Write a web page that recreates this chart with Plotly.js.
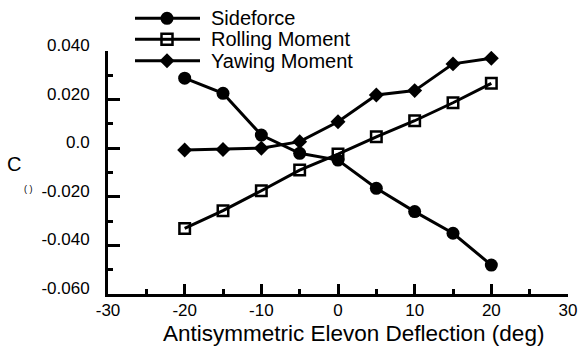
<!DOCTYPE html>
<html>
<head>
<meta charset="utf-8">
<script src="https://cdn.plot.ly/plotly-3.0.1.min.js"></script>
<style>html,body{margin:0;padding:0;background:#fff;}#chart{width:578px;height:347px;}</style>
</head>
<body>
<div id="chart"></div>
<script>
// Data
var deflection = [-20, -15, -10, -5, 0, 5, 10, 15, 20];
var sideforce = [0.0288, 0.0226, 0.0054, -0.0021, -0.0049, -0.0165, -0.0261, -0.0350, -0.0481];
var rollingMoment = [-0.0330, -0.0257, -0.0175, -0.0090, -0.0024, 0.0047, 0.0113, 0.0187, 0.0267];
var yawingMoment = [-0.0007, -0.0005, 0.0000, 0.0027, 0.0109, 0.0219, 0.0237, 0.0347, 0.0370];
var seriesNames = ["Sideforce", "Rolling Moment", "Yawing Moment"];
var yTickVals = [0.04, 0.02, 0, -0.02, -0.04, -0.06];
var yTickText = ["0.040", "0.020", "0.0", "-0.020", "-0.040", "-0.060"];
var xTickVals = [-30, -20, -10, 0, 10, 20, 30];
var xTickText = ["-30", "-20", "-10", "0", "10", "20", "30"];

var FONT = "Liberation Sans, Arial, sans-serif";
var W = 578, H = 347, L = 108, R = 10, T = 51, B = 53;
var PW = W - L - R, PH = H - T - B;
function px(x) { return (x - L) / PW; }
function py(y) { return (H - B - y) / PH; }

var lineStyle = {color: "#000", width: 3};
var traces = [
  {x: deflection, y: sideforce, name: seriesNames[0], mode: "lines+markers", line: lineStyle,
   marker: {symbol: "circle", size: 13, color: "#000"}},
  {x: deflection, y: rollingMoment, name: seriesNames[1], mode: "lines+markers", line: lineStyle,
   marker: {symbol: "square-open", size: 10.5, color: "#000", line: {width: 2.5, color: "#000"}}},
  {x: deflection, y: yawingMoment, name: seriesNames[2], mode: "lines+markers", line: lineStyle,
   marker: {symbol: "diamond", size: 11.5, color: "#000"}}
];

// Custom legend (decoration in pixel space)
var legendRows = [18.3, 39.3, 60.7];
var shapes = [], annotations = [];
legendRows.forEach(function (ry, i) {
  shapes.push({type: "line", xref: "paper", yref: "paper", x0: px(135), x1: px(200), y0: py(ry), y1: py(ry),
               line: {color: "#000", width: 3}});
  var ax = px(167), ay = py(ry);
  var common = {xref: "paper", yref: "paper", xsizemode: "pixel", ysizemode: "pixel", xanchor: ax, yanchor: ay};
  if (i === 0) {
    shapes.push(Object.assign({type: "circle", x0: -6.5, x1: 6.5, y0: -6.5, y1: 6.5,
      fillcolor: "#000", line: {color: "#000", width: 0}}, common));
  } else if (i === 1) {
    shapes.push(Object.assign({type: "rect", x0: -5.5, x1: 5.5, y0: -5.5, y1: 5.5,
      fillcolor: "#fff", line: {color: "#000", width: 2.5}}, common));
    shapes.push({type: "line", xref: "paper", yref: "paper", x0: px(162), x1: px(172), y0: py(ry), y1: py(ry),
               line: {color: "#000", width: 3}});
  } else {
    shapes.push(Object.assign({type: "path", path: "M0,7.5 L7.5,0 L0,-7.5 L-7.5,0 Z",
      fillcolor: "#000", line: {color: "#000", width: 0}}, common));
  }
  annotations.push({text: seriesNames[i], xref: "paper", yref: "paper", x: px(209), y: ay,
    xanchor: "left", yanchor: "middle", showarrow: false, font: {family: FONT, size: 20, color: "#000"}});
});

annotations.push({text: "C", xref: "paper", yref: "paper", x: px(14), y: py(164), xanchor: "center", yanchor: "middle",
  showarrow: false, font: {family: FONT, size: 20, color: "#000"}});
annotations.push({text: "( )", xref: "paper", yref: "paper", x: px(28.5), y: py(189), xanchor: "center", yanchor: "middle",
  showarrow: false, font: {family: FONT, size: 9, color: "#000"}});
annotations.push({text: "Antisymmetric Elevon Deflection (deg)", xref: "paper", yref: "paper", x: px(353), y: py(333),
  xanchor: "center", yanchor: "middle", showarrow: false, font: {family: FONT, size: 22.5, color: "#000"}});

var layout = {
  width: W, height: H,
  margin: {l: L, r: R, t: T, b: B, pad: 0},
  paper_bgcolor: "#fff", plot_bgcolor: "#fff",
  showlegend: false,
  font: {family: FONT, color: "#000"},
  xaxis: {
    range: [-30, 30], showgrid: false, zeroline: false, showline: true, linecolor: "#000", linewidth: 3,
    tickmode: "array", tickvals: xTickVals, ticktext: xTickText,
    ticks: "inside", ticklen: 10, tickwidth: 3, tickcolor: "#000",
    ticklabelstandoff: -1,
    tickfont: {family: FONT, size: 17, color: "#000"},
    minor: {tickmode: "linear", tick0: -25, dtick: 10, ticks: "inside", ticklen: 5, tickwidth: 3, tickcolor: "#000"}
  },
  yaxis: {
    range: [-0.06, 0.04], showgrid: false, zeroline: false, showline: true, linecolor: "#000", linewidth: 3,
    tickmode: "array", tickvals: yTickVals, ticktext: yTickText,
    ticks: "inside", ticklen: 12, tickwidth: 3, tickcolor: "#000",
    ticklabelstandoff: 12, ticklabelshift: -6,
    tickfont: {family: FONT, size: 17, color: "#000"},
    minor: {tickmode: "linear", tick0: -0.05, dtick: 0.02, ticks: "inside", ticklen: 5, tickwidth: 3, tickcolor: "#000"}
  },
  shapes: shapes,
  annotations: annotations
};

Plotly.newPlot("chart", traces, layout, {displayModeBar: false, staticPlot: true});
</script>
</body>
</html>
